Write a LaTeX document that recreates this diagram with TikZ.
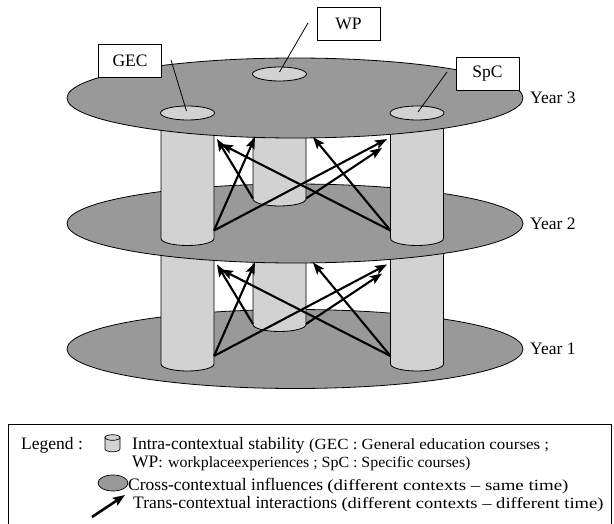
\documentclass[tikz,border=0pt]{standalone}
\usepackage{fontspec}
\setmainfont{Liberation Serif}
\usetikzlibrary{arrows.meta}
\definecolor{diskgray}{HTML}{999999}
\definecolor{pilgray}{HTML}{D2D2D2}
\newcommand\lgbig{\fontsize{17.5}{20}\selectfont}
\newcommand\lgsmall{\fontsize{15.5}{18}\selectfont}
\newcommand\parw[2]{\resizebox{#1pt}{\height}{\lgsmall #2}}
\tikzset{
  disk/.style={fill=diskgray, draw=black, line width=0.8pt},
  pillar/.style={fill=pilgray, draw=black, line width=0.8pt},
  trans/.style={line width=2.1pt, -{Stealth[length=12pt,width=9pt,inset=2.5pt]}},
  lbl/.style={draw, fill=white, line width=0.9pt, minimum width=63pt, minimum height=33pt, inner sep=0pt, font=\lgbig},
  yr/.style={anchor=west, inner sep=0pt, font=\lgbig},
  lgtxt/.style={anchor=base west, inner sep=0pt, font=\lgbig},
  leader/.style={line width=0.8pt}
}
% one gap between an upper layer (centre #1) and the layer below it
\newcommand\mygap[1]{%
  \pgfmathsetmacro\U{#1}\pgfmathsetmacro\D{#1+125.5}%
  \filldraw[pillar] (253,\U+5) -- (253,\D-24.5) arc[start angle=180,end angle=360,x radius=26.5pt,y radius=7pt] -- (306,\U+5) -- cycle;
  \filldraw[pillar] (161,\U+5) -- (161,\D+15) arc[start angle=180,end angle=360,x radius=26.5pt,y radius=7pt] -- (214,\U+5) -- cycle;
  \filldraw[pillar] (390.5,\U+5) -- (390.5,\D+15) arc[start angle=180,end angle=360,x radius=26.5pt,y radius=7pt] -- (443.5,\U+5) -- cycle;
  \coordinate (gecT) at (214,\D+7);
  \coordinate (wpL) at (253,\D-25);
  \coordinate (wpR) at (306,\D-25);
  \coordinate (spcT) at (390.5,\D+7);
  \coordinate (hGECa) at (217,\U+41);
  \coordinate (hGECb) at (221,\U+46);
  \coordinate (hWPa) at (255,\U+39);
  \coordinate (hWPb) at (313,\U+39);
  \coordinate (hSPCa) at (387,\U+41);
  \coordinate (hSPCb) at (382,\U+50);
  \draw[trans] (gecT) -- (hWPa);
  \draw[trans] (gecT) -- (hSPCa);
  \draw[trans] (wpL) -- (hGECa);
  \draw[trans] (wpR) -- (hSPCb);
  \draw[trans] (spcT) -- (hGECb);
  \draw[trans] (spcT) -- (hWPb);
}
\begin{document}
\begin{tikzpicture}[x=1pt,y=-1pt]
\useasboundingbox (0,0) rectangle (614,524);
\fill[white] (0,0) rectangle (614,524);
% Year 1 layer
\filldraw[disk] (295,349) ellipse[x radius=228pt,y radius=39.5pt];
\mygap{223.5}
% Year 2 layer
\filldraw[disk] (295,223.5) ellipse[x radius=228pt,y radius=39.5pt];
\mygap{98}
% Year 3 layer
\filldraw[disk] (295,98) ellipse[x radius=228pt,y radius=40pt];
\filldraw[pillar] (187.5,113) ellipse[x radius=27pt,y radius=7pt];
\filldraw[pillar] (279.5,74) ellipse[x radius=27pt,y radius=7pt];
\filldraw[pillar] (417,113) ellipse[x radius=27pt,y radius=7pt];
% labels
\node[lbl] (gec) at (130,60.5) {GEC};
\node[lbl] (wp) at (348.5,24) {WP};
\node[lbl] (spc) at (487.5,74) {SpC};
\coordinate (gecA) at (171,60);
\coordinate (gecB) at (186.5,111);
\coordinate (wpA) at (308,23);
\coordinate (wpB) at (279.5,72);
\coordinate (spcA) at (447,72);
\coordinate (spcB) at (418,112);
\draw[leader] (gecA) -- (gecB);
\draw[leader] (wpA) -- (wpB);
\draw[leader] (spcA) -- (spcB);
\node[yr] (y3) at (530,98) {Year 3};
\node[yr] (y2) at (530,223.5) {Year 2};
\node[yr] (y1) at (530,349) {Year 1};
% legend
\draw[line width=1pt] (8,424) rectangle (611,530);
\node[lgtxt] (lg) at (21,449) {Legend :};
\filldraw[pillar,line width=0.7pt] (105,437.5) -- (105,449) arc[start angle=180,end angle=360,x radius=7.5pt,y radius=2.8pt] -- (120,437.5) -- cycle;
\filldraw[pillar,line width=0.7pt] (112.5,437.5) ellipse[x radius=7.5pt,y radius=2.8pt];
\filldraw[disk,line width=0.7pt] (113,483) ellipse[x radius=15pt,y radius=8pt];
\coordinate (la1) at (92,517);
\coordinate (la2) at (125,495);
\draw[line width=2.6pt,-{Stealth[length=12pt,width=9pt,inset=2pt]}] (la1) -- (la2);
\node[lgtxt] (l1) at (132,449) {Intra-contextual stability \parw{240}{(GEC : General education courses ;}};
\node[lgtxt] (l2) at (132,467) {WP\parw{312}{: workplaceexperiences ; SpC : Specific courses)}};
\node[lgtxt] (l3) at (128,490) {Cross-contextual influences \parw{241}{(different contexts – same time)}};
\node[lgtxt] (l4) at (133,508) {Trans-contextual interactions \parw{262}{(different contexts – different time)}};
\end{tikzpicture}
\end{document}
